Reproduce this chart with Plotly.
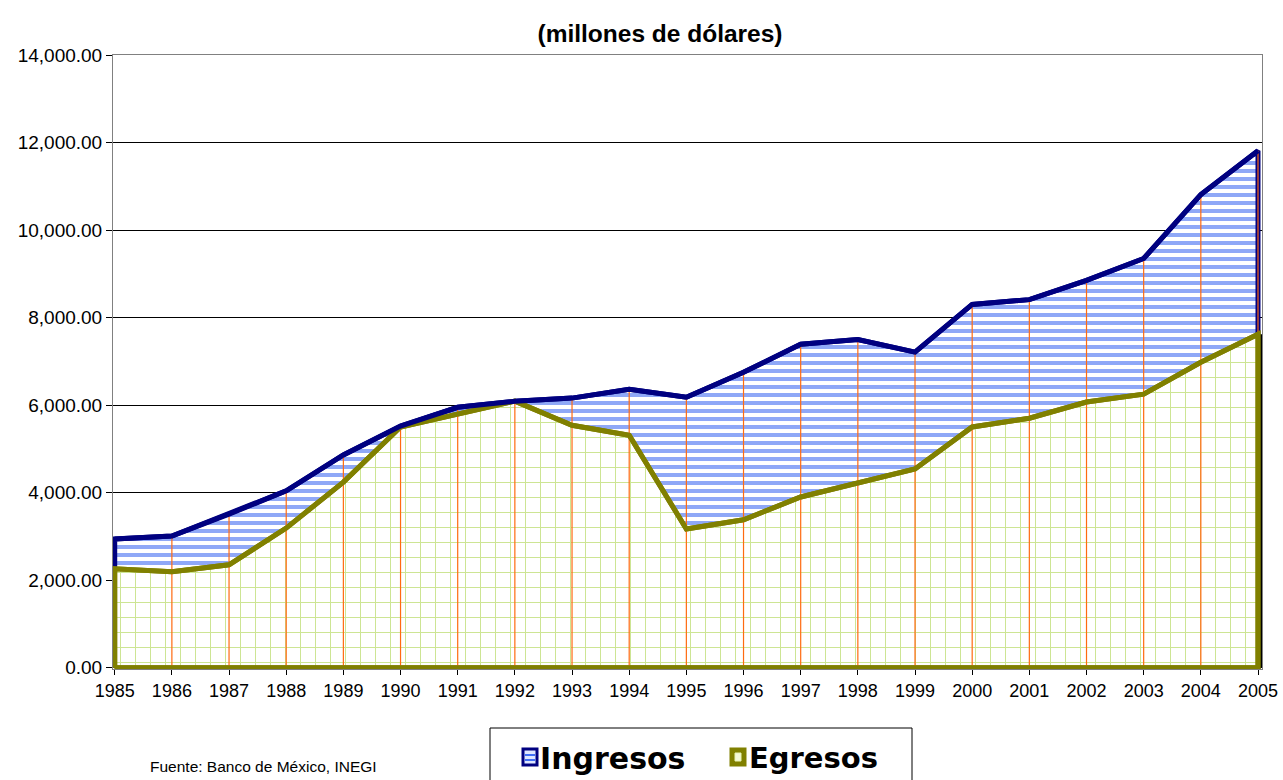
import plotly.graph_objects as go

years = list(range(1985, 2006))
ingresos = [2940, 3010, 3510, 4040, 4860, 5520, 5950, 6090, 6160, 6360, 6180,
            6750, 7390, 7500, 7210, 8300, 8410, 8850, 9350, 10810, 11810]
egresos = [2260, 2190, 2350, 3190, 4240, 5500, 5790, 6090, 5540, 5310, 3170,
           3380, 3900, 4220, 4540, 5500, 5700, 6070, 6250, 6980, 7620]
series_names = ["Ingresos", "Egresos"]

FONT = "Arial, Liberation Sans, sans-serif"
LEG_FONT = "DejaVu Sans, sans-serif"
W, H = 1283, 780
ML, MR, MT, MB = 113, 21, 55, 111
PW, PH = W - ML - MR, H - MT - MB

def paper_x(px):
    return (px - ML) / PW

def paper_y(py):
    return (H - MB - py) / PH

def polygon(xs, ys):
    return [xs[0]] + xs + [xs[-1], xs[0]], [0] + ys + [0, 0]

fig = go.Figure()

px_, py_ = polygon(years, ingresos)
fig.add_trace(go.Scatter(
    x=px_, y=py_, mode="lines", fill="toself", name=series_names[0], showlegend=False,
    line=dict(color="#000080", width=5), fillcolor="white",
    fillpattern=dict(shape="-", fgcolor="#1f52f0", bgcolor="white", size=8, solidity=0.5),
))

# black shadow on the right edge of Egresos
fig.add_trace(go.Scatter(
    x=[years[-1] + 0.045, years[-1] + 0.045], y=[0, egresos[-1]], mode="lines",
    line=dict(color="black", width=4), showlegend=False, hoverinfo="skip"))

ex_, ey_ = polygon(years, egresos)
fig.add_trace(go.Scatter(
    x=ex_, y=ey_, mode="lines", fill="toself", name=series_names[1], showlegend=False,
    line=dict(color="#808000", width=5), fillcolor="white",
    fillpattern=dict(shape="+", fgcolor="#9bcb2a", bgcolor="white", size=15, solidity=0.13),
))

# drop lines
dx, dy = [], []
for x, v in zip(years[1:], ingresos[1:]):
    dx += [x, x, None]
    dy += [0, v, None]
fig.add_trace(go.Scatter(x=dx, y=dy, mode="lines", line=dict(color="#ff6a10", width=1.2),
                         showlegend=False, hoverinfo="skip"))

# outlines on top of drop lines
fig.add_trace(go.Scatter(x=ex_, y=ey_, mode="lines", line=dict(color="#808000", width=5),
                         showlegend=False, hoverinfo="skip"))
fig.add_trace(go.Scatter(x=years, y=ingresos, mode="lines", line=dict(color="#000080", width=5),
                         showlegend=False, hoverinfo="skip"))

shapes = [
    # legend box
    dict(type="rect", xref="paper", yref="paper", x0=paper_x(490), x1=paper_x(912),
         y0=paper_y(795), y1=paper_y(728), line=dict(color="black", width=1),
         fillcolor="white", layer="above"),
    # Ingresos icon
    dict(type="rect", xref="paper", yref="paper", x0=paper_x(523), x1=paper_x(537),
         y0=paper_y(765), y1=paper_y(749), line=dict(color="#000080", width=3),
         fillcolor="#dfe7ff", layer="above"),
    dict(type="line", xref="paper", yref="paper", x0=paper_x(525), x1=paper_x(535),
         y0=paper_y(755), y1=paper_y(755), line=dict(color="#3f6ef5", width=2), layer="above"),
    dict(type="line", xref="paper", yref="paper", x0=paper_x(525), x1=paper_x(535),
         y0=paper_y(760), y1=paper_y(760), line=dict(color="#3f6ef5", width=2), layer="above"),
    # Egresos icon
    dict(type="rect", xref="paper", yref="paper", x0=paper_x(731), x1=paper_x(745),
         y0=paper_y(765), y1=paper_y(749), line=dict(color="#808000", width=3),
         fillcolor="#808000", layer="above"),
    dict(type="rect", xref="paper", yref="paper", x0=paper_x(735), x1=paper_x(741),
         y0=paper_y(761), y1=paper_y(753), line=dict(color="#e8f3b0", width=1),
         fillcolor="#f4f9d8", layer="above"),
]

annotations = [
    dict(text="Fuente: Banco de México, INEGI", xref="paper", yref="paper",
         x=paper_x(148), y=paper_y(766), xanchor="left", yanchor="middle", showarrow=False,
         font=dict(family=FONT, size=15.5, color="black")),
    dict(text="<b>" + series_names[0] + "</b>", xref="paper", yref="paper",
         x=paper_x(538), y=paper_y(758), xanchor="left", yanchor="middle", showarrow=False,
         font=dict(family=LEG_FONT, size=30, color="black")),
    dict(text="<b>" + series_names[1] + "</b>", xref="paper", yref="paper",
         x=paper_x(747), y=paper_y(758), xanchor="left", yanchor="middle", showarrow=False,
         font=dict(family=LEG_FONT, size=29, color="black")),
]

fig.update_layout(
    width=W, height=H,
    margin=dict(l=ML, r=MR, t=MT, b=MB, autoexpand=False),
    paper_bgcolor="white", plot_bgcolor="white",
    font=dict(family=FONT, size=18, color="black"),
    showlegend=False,
    title=dict(text="<b>(millones de dólares)</b>", x=660 / W, xanchor="center",
               y=1 - 33 / H, yanchor="middle", yref="container",
               font=dict(family=FONT, size=24.5, color="black")),
    xaxis=dict(range=[1984.97, 2005.07], tickmode="array", tickvals=years,
               ticktext=[str(y) for y in years], showgrid=False, zeroline=False,
               showline=True, linecolor="#808080", linewidth=1, mirror=True,
               ticks="outside", ticklen=5, tickcolor="black", automargin=False,
               tickfont=dict(family=FONT, size=18, color="black")),
    yaxis=dict(range=[-30, 14000], tickvals=list(range(0, 14001, 2000)),
               tickformat=",.2f", showgrid=True, gridcolor="black", gridwidth=1,
               zeroline=False, showline=True, linecolor="#808080", linewidth=1, mirror=True,
               ticks="outside", ticklen=6, tickcolor="black", automargin=False,
               tickfont=dict(family=FONT, size=19, color="black")),
    shapes=shapes,
    annotations=annotations,
)

fig.write_html("out.html", config={"displayModeBar": False},
               post_script="document.body.style.margin='0px';")
